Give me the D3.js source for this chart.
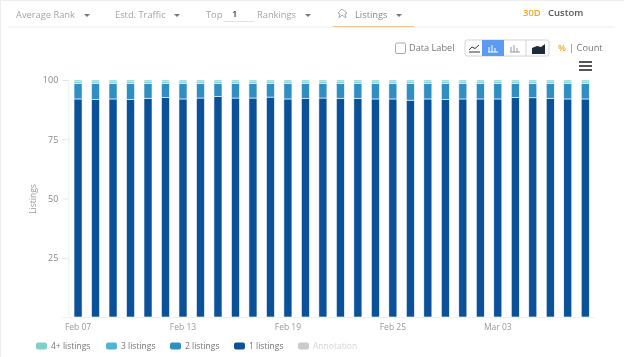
<!DOCTYPE html>
<html>
<head>
<meta charset="utf-8">
<script src="https://cdnjs.cloudflare.com/ajax/libs/d3/7.8.5/d3.min.js"></script>
<style>
  html, body { margin: 0; padding: 0; background: #fff; overflow: hidden; }
  text { font-family: "Open Sans", sans-serif; }
  svg { filter: blur(0.35px); }
</style>
</head>
<body>
<div id="chart"></div>
<script>
var days = ["Feb 07","Feb 08","Feb 09","Feb 10","Feb 11","Feb 12","Feb 13","Feb 14","Feb 15","Feb 16",
  "Feb 17","Feb 18","Feb 19","Feb 20","Feb 21","Feb 22","Feb 23","Feb 24","Feb 25","Feb 26",
  "Feb 27","Feb 28","Mar 01","Mar 02","Mar 03","Mar 04","Mar 05","Mar 06","Mar 07","Mar 08"];
var tickDays = ["Feb 07","Feb 13","Feb 19","Feb 25","Mar 03"];
var yTicks = [25, 50, 75, 100];

var one = [92,91.7,92,91.8,92.3,92.6,92,92.4,93,92.4,
  92.4,92.8,92,92.3,92.4,92.3,92.3,92,92,91.5,
  92,91.8,92,92,92,92.7,92.5,92.3,92,92];
var two = [6.6,6.9,6.6,6.8,6.3,6,6.6,6.2,5.6,6.2,
  6.2,5.8,6.6,6.3,6.2,6.3,6.3,6.6,6.6,7.1,
  6.6,6.8,6.6,6.6,6.6,5.9,6.1,6.3,6.6,6.6];
var three = [0.6,0.6,0.6,0.6,0.6,0.6,0.6,0.6,0.6,0.6,
  0.6,0.6,0.6,0.6,0.6,0.6,0.6,0.6,0.6,0.6,
  0.6,0.6,0.6,0.6,0.6,0.6,0.6,0.6,0.6,0.6];
var four = [0.8,0.8,0.8,0.8,0.8,0.8,0.8,0.8,0.8,0.8,
  0.8,0.8,0.8,0.8,0.8,0.8,0.8,0.8,0.8,0.8,
  0.8,0.8,0.8,0.8,0.8,0.8,0.8,0.8,0.8,0.8];

var keys = ["1 listings","2 listings","3 listings","4+ listings"];
var colorArr = ["#0a5199","#2f8fc3","#4fb5d8","#7fd1c7"];
var legendNames = ["4+ listings","3 listings","2 listings","1 listings","Annotation"];
var legendColors = ["#7fd1c7","#4fb5d8","#2f8fc3","#0a5199","#cccccc"];
var legendX = [36, 106, 170, 234, 298];

var data = days.map(function(d, i) {
  return {day: d, "1 listings": one[i], "2 listings": two[i], "3 listings": three[i], "4+ listings": four[i]};
});

var svg = d3.select("#chart").append("svg")
  .attr("width", 624)
  .attr("height", 357)
  .style("display", "block");

// toolbar
svg.append("rect").attr("width", 624).attr("height", 1).attr("fill", "#eeeeee");
svg.append("rect").attr("width", 1).attr("height", 357).attr("fill", "#eeeeee");
svg.append("line").attr("x1", 8).attr("x2", 615).attr("y1", 27).attr("y2", 27).attr("stroke", "#ececec");
svg.append("line").attr("x1", 333).attr("x2", 414).attr("y1", 26.5).attr("y2", 26.5).attr("stroke", "#f0c58a");

function label(x, y, txt, size, color, weight) {
  return svg.append("text").attr("x", x).attr("y", y).text(txt)
    .attr("font-size", size).attr("fill", color).attr("font-weight", weight || 400);
}
function caret(x, y) {
  svg.append("path").attr("d", "M" + x + "," + y + "h6l-3,3z").attr("fill", "#777");
}
label(16, 18, "Average Rank", 9.3, "#a5a5a5"); caret(84, 14);
label(115, 18, "Estd. Traffic", 9.3, "#a5a5a5"); caret(174, 14);
label(206, 18, "Top", 9.3, "#a5a5a5");
label(232, 17, "1", 9.5, "#444", 600);
svg.append("line").attr("x1", 224).attr("x2", 254).attr("y1", 21.5).attr("y2", 21.5).attr("stroke", "#e2e2e2");
label(257, 18, "Rankings", 9.3, "#a5a5a5"); caret(305, 14);
svg.append("path").attr("d", "M342,9l5,4l-2,1l1,4l-4,-3l-3,3l1,-4l-2,-1z").attr("fill", "none").attr("stroke", "#aaa");
label(355, 18, "Listings", 9.3, "#8a8a8a"); caret(396, 14);
label(523, 16, "30D", 9.5, "#f5a623", 600);
label(548, 16, "Custom", 9.5, "#555", 600);

// chart type switches
svg.append("rect").attr("x", 395.5).attr("y", 43).attr("width", 10).attr("height", 10.5).attr("rx", 1.5)
  .attr("fill", "#fff").attr("stroke", "#aaa");
label(409, 51, "Data Label", 9.2, "#777");
svg.append("rect").attr("x", 465).attr("y", 40).attr("width", 84).attr("height", 16).attr("rx", 2)
  .attr("fill", "#fff").attr("stroke", "#d5d5d5");
svg.append("rect").attr("x", 482).attr("y", 40).attr("width", 22).attr("height", 16).attr("fill", "#5b9cf2");
svg.append("line").attr("x1", 526).attr("x2", 526).attr("y1", 40).attr("y2", 56).attr("stroke", "#d5d5d5");
svg.append("path").attr("d", "M469,52h11M469,50l3,-3l3,1.5l4,-3.5").attr("fill", "none").attr("stroke", "#333");
svg.append("path").attr("d", "M488,52h10M489,52v-5M492,52v-7M495,52v-4").attr("fill", "none").attr("stroke", "#fff");
svg.append("path").attr("d", "M510,52h10M511,52v-5M514,52v-7M517,52v-4").attr("fill", "none").attr("stroke", "#999");
svg.append("path").attr("d", "M532,54v-6l5,-2l4,1l4,-3v10z").attr("fill", "#1c2b3c");
label(558, 51, "%", 9.3, "#f5a623", 600);
label(569, 51, "| Count", 9.3, "#777");
svg.append("path").attr("d", "M579,62h13M579,66h13M579,70h13").attr("stroke", "#555").attr("stroke-width", 2);

// chart
var margin = {top: 80, bottom: 40, left: 69.3, right: 30};
var width = 624 - margin.left - margin.right;
var height = 357 - margin.top - margin.bottom;
var g = svg.append("g").attr("transform", "translate(" + margin.left + "," + margin.top + ")");

var x = d3.scaleBand().domain(days).range([0, width]).paddingInner(0.54).paddingOuter(0.27);
var y = d3.scaleLinear().domain([0, 100]).range([height, 0]);

var yAxis = g.append("g")
  .attr("transform", "translate(-1,0)")
  .call(d3.axisLeft(y).tickValues(yTicks).tickSize(6).tickPadding(4));
yAxis.select(".domain").attr("stroke", "#f0f0f0");
yAxis.selectAll(".tick line").attr("stroke", "#e6e6e6");
yAxis.selectAll("text").attr("fill", "#888").attr("font-size", 9).attr("font-family", '"Open Sans", sans-serif');

var xAxis = g.append("g")
  .attr("transform", "translate(0," + height + ")")
  .call(d3.axisBottom(x).tickValues(tickDays).tickSize(0).tickPadding(7));
xAxis.select(".domain").attr("stroke", "#eeeeee");
xAxis.selectAll("text").attr("fill", "#999").attr("font-size", 8.5).attr("font-family", '"Open Sans", sans-serif');

svg.append("text")
  .attr("transform", "translate(36,199) rotate(-90)")
  .attr("text-anchor", "middle")
  .attr("font-size", 8.5)
  .attr("fill", "#999")
  .text("Listings");

var stackedData = d3.stack().keys(keys)(data);

g.selectAll("g.layer")
  .data(stackedData)
  .enter()
  .append("g")
  .attr("class", "layer")
  .attr("fill", function(d, i) { return colorArr[i]; })
  .selectAll("rect")
  .data(function(d) { return d; })
  .enter()
  .append("rect")
  .attr("x", function(d) { return x(d.data.day); })
  .attr("y", function(d) { return y(d[1]); })
  .attr("width", x.bandwidth())
  .attr("height", function(d) { return y(d[0]) - y(d[1]); })
  .attr("stroke", "#fff")
  .attr("stroke-width", 0.6);

// legend
var legend = svg.selectAll("g.legend")
  .data(legendNames)
  .enter()
  .append("g")
  .attr("class", "legend")
  .attr("transform", function(d, i) { return "translate(" + legendX[i] + ",346)"; });
legend.append("rect")
  .attr("x", 0).attr("y", -3.5).attr("width", 11).attr("height", 7).attr("rx", 2)
  .attr("fill", function(d, i) { return legendColors[i]; });
legend.append("text")
  .attr("x", 15).attr("y", 3)
  .attr("font-size", 8.5)
  .attr("fill", function(d, i) { return i == 4 ? "#d5d5d5" : "#777"; })
  .text(function(d) { return d; });
</script>
</body>
</html>
